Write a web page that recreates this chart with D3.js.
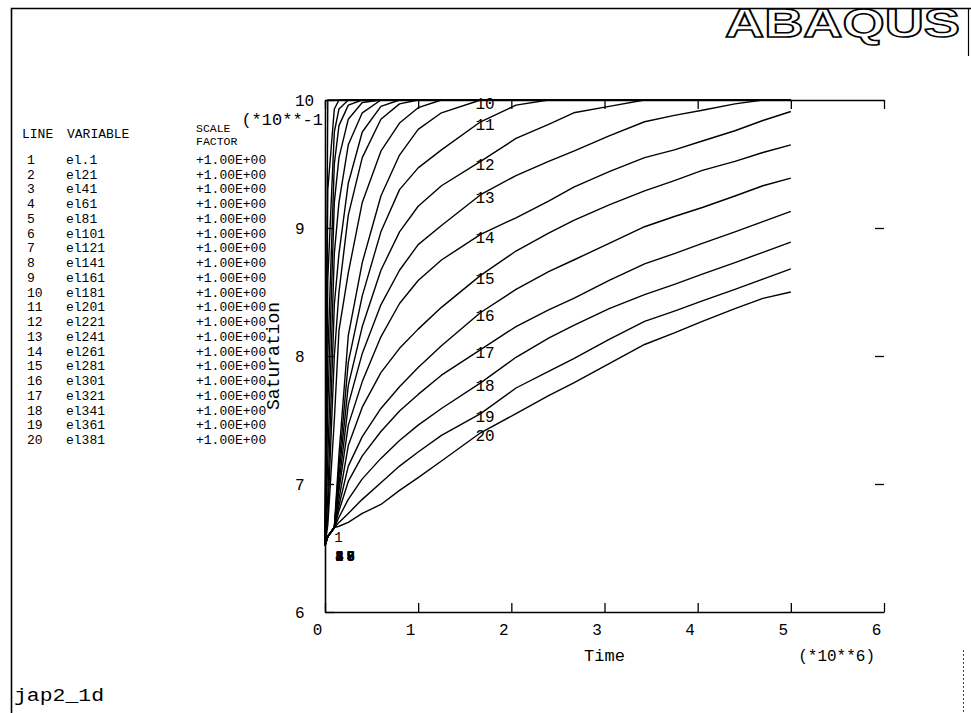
<!DOCTYPE html>
<html>
<head>
<meta charset="utf-8">
<script src="https://cdn.jsdelivr.net/npm/d3@7"></script>
<style>
  body { margin: 0; background: #fff; }
  svg { display: block; }
</style>
</head>
<body>
<svg id="chart" width="971" height="713"></svg>
<script>
// Output times, in units of 10**6
const time = [0, 0.03, 0.1, 0.15, 0.25, 0.4, 0.6, 0.8, 1.0, 1.25, 1.67, 2.05, 2.4, 2.67, 3.05, 3.43, 3.75, 4.05, 4.4, 4.7, 5.0];

// Plotted lines and the element variable of each
const lineIds = [1, 2, 3, 4, 5, 6, 7, 8, 9, 10, 11, 12, 13, 14, 15, 16, 17, 18, 19, 20];
const variables = ["el.1", "el21", "el41", "el61", "el81", "el101", "el121", "el141", "el161", "el181",
                   "el201", "el221", "el241", "el261", "el281", "el301", "el321", "el341", "el361", "el381"];
const scaleFactor = "+1.00E+00";

// Saturation of each element at every output time
const saturation = [
  [0.652, 1.000, 1.000, 1.000, 1.000, 1.000, 1.000, 1.000, 1.000, 1.000, 1.000, 1.000, 1.000, 1.000, 1.000, 1.000, 1.000, 1.000, 1.000, 1.000, 1.000],
  [0.652, 0.930, 0.993, 1.000, 1.000, 1.000, 1.000, 1.000, 1.000, 1.000, 1.000, 1.000, 1.000, 1.000, 1.000, 1.000, 1.000, 1.000, 1.000, 1.000, 1.000],
  [0.652, 0.860, 0.975, 0.993, 1.000, 1.000, 1.000, 1.000, 1.000, 1.000, 1.000, 1.000, 1.000, 1.000, 1.000, 1.000, 1.000, 1.000, 1.000, 1.000, 1.000],
  [0.652, 0.800, 0.950, 0.980, 0.996, 1.000, 1.000, 1.000, 1.000, 1.000, 1.000, 1.000, 1.000, 1.000, 1.000, 1.000, 1.000, 1.000, 1.000, 1.000, 1.000],
  [0.652, 0.760, 0.920, 0.955, 0.985, 0.998, 1.000, 1.000, 1.000, 1.000, 1.000, 1.000, 1.000, 1.000, 1.000, 1.000, 1.000, 1.000, 1.000, 1.000, 1.000],
  [0.652, 0.720, 0.880, 0.920, 0.965, 0.990, 1.000, 1.000, 1.000, 1.000, 1.000, 1.000, 1.000, 1.000, 1.000, 1.000, 1.000, 1.000, 1.000, 1.000, 1.000],
  [0.652, 0.690, 0.840, 0.880, 0.935, 0.975, 0.995, 1.000, 1.000, 1.000, 1.000, 1.000, 1.000, 1.000, 1.000, 1.000, 1.000, 1.000, 1.000, 1.000, 1.000],
  [0.652, 0.675, 0.800, 0.850, 0.910, 0.955, 0.985, 0.997, 1.000, 1.000, 1.000, 1.000, 1.000, 1.000, 1.000, 1.000, 1.000, 1.000, 1.000, 1.000, 1.000],
  [0.652, 0.668, 0.750, 0.820, 0.865, 0.920, 0.960, 0.982, 0.994, 1.000, 1.000, 1.000, 1.000, 1.000, 1.000, 1.000, 1.000, 1.000, 1.000, 1.000, 1.000],
  [0.652, 0.659, 0.666, 0.723, 0.816, 0.873, 0.925, 0.957, 0.977, 0.990, 1.000, 1.000, 1.000, 1.000, 1.000, 1.000, 1.000, 1.000, 1.000, 1.000, 1.000],
  [0.652, 0.659, 0.666, 0.714, 0.795, 0.847, 0.897, 0.930, 0.947, 0.961, 0.983, 0.996, 1.000, 1.000, 1.000, 1.000, 1.000, 1.000, 1.000, 1.000, 1.000],
  [0.652, 0.659, 0.666, 0.707, 0.777, 0.823, 0.867, 0.897, 0.917, 0.933, 0.952, 0.970, 0.981, 0.990, 0.995, 1.000, 1.000, 1.000, 1.000, 1.000, 1.000],
  [0.652, 0.659, 0.666, 0.700, 0.762, 0.802, 0.840, 0.867, 0.887, 0.902, 0.926, 0.941, 0.952, 0.960, 0.972, 0.983, 0.988, 0.992, 0.997, 1.000, 1.000],
  [0.652, 0.659, 0.666, 0.695, 0.746, 0.780, 0.815, 0.841, 0.859, 0.875, 0.895, 0.908, 0.921, 0.932, 0.944, 0.955, 0.961, 0.968, 0.976, 0.984, 0.991],
  [0.652, 0.659, 0.666, 0.688, 0.730, 0.760, 0.787, 0.806, 0.821, 0.838, 0.863, 0.882, 0.896, 0.906, 0.918, 0.929, 0.937, 0.945, 0.952, 0.959, 0.965],
  [0.652, 0.659, 0.666, 0.683, 0.714, 0.737, 0.759, 0.776, 0.791, 0.808, 0.834, 0.852, 0.866, 0.875, 0.888, 0.901, 0.909, 0.916, 0.925, 0.933, 0.939],
  [0.652, 0.659, 0.666, 0.679, 0.702, 0.722, 0.741, 0.757, 0.770, 0.785, 0.805, 0.823, 0.836, 0.845, 0.859, 0.872, 0.880, 0.888, 0.897, 0.905, 0.913],
  [0.652, 0.659, 0.666, 0.674, 0.688, 0.704, 0.720, 0.734, 0.746, 0.759, 0.779, 0.799, 0.814, 0.824, 0.837, 0.848, 0.856, 0.864, 0.873, 0.881, 0.889],
  [0.652, 0.659, 0.666, 0.670, 0.677, 0.688, 0.701, 0.714, 0.725, 0.738, 0.755, 0.775, 0.788, 0.798, 0.813, 0.827, 0.835, 0.843, 0.852, 0.860, 0.868],
  [0.652, 0.659, 0.666, 0.667, 0.670, 0.677, 0.684, 0.695, 0.705, 0.718, 0.740, 0.755, 0.769, 0.779, 0.794, 0.809, 0.818, 0.827, 0.837, 0.845, 0.850]
];

// Axis ticks
const xTicks = [0, 1, 2, 3, 4, 5, 6];
const yTicks = [0.6, 0.7, 0.8, 0.9, 1.0];
const yTickLabels = ["6", "7", "8", "9", "10"];

// Time at which curve numbers are written on the curves
const labelTime = 1.68;

const svg = d3.select("#chart");
const mono = "'Liberation Mono', 'DejaVu Sans Mono', monospace";

const x = d3.scaleLinear().domain([0, 6]).range([325, 884]);
const y = d3.scaleLinear().domain([0.6, 1.0]).range([612, 100]);

// Page frame
svg.append("path")
  .attr("d", "M11.5,713 V8.5 H971")
  .attr("fill", "none").attr("stroke", "#000").attr("stroke-width", 1.6);
svg.append("line")
  .attr("x1", 968.5).attr("x2", 968.5).attr("y1", 8).attr("y2", 56)
  .attr("stroke", "#000").attr("stroke-width", 1.2);
svg.append("line")
  .attr("x1", 963.5).attr("x2", 963.5).attr("y1", 650).attr("y2", 713)
  .attr("stroke", "#444").attr("stroke-width", 1).attr("stroke-dasharray", "2,2");

// Logo
svg.append("text")
  .attr("x", 725).attr("y", 37)
  .attr("textLength", 235).attr("lengthAdjust", "spacingAndGlyphs")
  .attr("font-family", "'Liberation Sans', Arial, sans-serif")
  .attr("font-weight", "bold").attr("font-size", 40)
  .attr("fill", "#fff").attr("stroke", "#000").attr("stroke-width", 1.5)
  .text("ABAQUS");

// Axes (ticks drawn inward)
const axisStyle = g => {
  g.select(".domain").attr("stroke", "#000").attr("stroke-width", 1.6);
  g.selectAll(".tick line").attr("stroke", "#000").attr("stroke-width", 1.3);
  g.selectAll("text").attr("fill", "#000").attr("font-family", mono).attr("font-size", 16);
};

svg.append("g")
  .attr("transform", `translate(0,${y(0.6)})`)
  .call(d3.axisBottom(x).tickValues(xTicks).tickSizeInner(-9).tickSizeOuter(0).tickFormat(d3.format("d")))
  .call(axisStyle)
  .call(g => g.selectAll("text").attr("y", 12).attr("dx", -8));

svg.append("g")
  .attr("transform", `translate(0,${y(1.0)})`)
  .call(d3.axisTop(x).tickValues(xTicks).tickSizeInner(-9).tickSizeOuter(0).tickFormat(""))
  .call(axisStyle);

svg.append("g")
  .attr("transform", `translate(${x(0)},0)`)
  .call(d3.axisLeft(y).tickValues(yTicks).tickSizeInner(-9).tickSizeOuter(0)
    .tickFormat((d, i) => yTickLabels[i]))
  .call(axisStyle)
  .call(g => g.selectAll("text").attr("x", 295 - x(0)).attr("text-anchor", "start"));

// Right side: tick marks only
svg.append("g")
  .attr("transform", `translate(${x(6)},0)`)
  .call(d3.axisRight(y).tickValues(yTicks.slice(1, -1)).tickSizeInner(-9).tickSizeOuter(0).tickFormat(""))
  .call(axisStyle)
  .call(g => g.select(".domain").remove());

// Axis titles and multipliers
svg.append("text")
  .attr("x", x(3)).attr("y", 661).attr("text-anchor", "middle")
  .attr("font-family", mono).attr("font-size", 17).text("Time");
svg.append("text")
  .attr("x", 875).attr("y", 661).attr("text-anchor", "end")
  .attr("font-family", mono).attr("font-size", 16).text("(*10**6)");
svg.append("text")
  .attr("x", 323).attr("y", 125).attr("text-anchor", "end")
  .attr("font-family", mono).attr("font-size", 17).text("(*10**-1");
svg.append("text")
  .attr("transform", `translate(279,${(y(0.6) + y(1.0)) / 2}) rotate(-90)`)
  .attr("text-anchor", "middle")
  .attr("font-family", mono).attr("font-size", 18).text("Saturation");

// Curves
const line = d3.line()
  .x((d, i) => x(time[i]))
  .y(d => y(d));

svg.append("g")
  .selectAll("path")
  .data(saturation)
  .join("path")
  .attr("d", line)
  .attr("fill", "none")
  .attr("stroke", "#000")
  .attr("stroke-width", 1.4)
  .attr("stroke-linejoin", "round");

// Curve numbers
const valueAt = (series, t) => {
  const i = Math.min(d3.bisectRight(time, t), time.length - 1);
  const t0 = time[i - 1], t1 = time[i];
  return series[i - 1] + (series[i] - series[i - 1]) * (t - t0) / (t1 - t0);
};

const labels = svg.append("g")
  .attr("font-family", mono).attr("font-size", 16).attr("fill", "#000");

lineIds.slice(9).forEach((id, k) => {
  const s = saturation[9 + k];
  labels.append("text")
    .attr("x", x(labelTime) - 6)
    .attr("y", y(valueAt(s, labelTime)) + 9)
    .text(id);
});

// Numbers of the early curves, written where they pile up near the start
labels.append("text")
  .attr("x", x(0.1)).attr("y", y(0.6547)).attr("font-size", 14)
  .text(lineIds[0]);
lineIds.slice(1, 9).forEach((id, k) => {
  labels.append("text")
    .attr("x", x(k < 4 ? 0.11 : 0.23))
    .attr("y", y(0.640))
    .attr("font-size", 14).attr("font-weight", "bold")
    .text(id);
});

// Legend table
const legend = svg.append("g")
  .attr("font-family", mono).attr("font-size", 13).attr("fill", "#000");
legend.append("text").attr("x", 22).attr("y", 138).text("LINE");
legend.append("text").attr("x", 67).attr("y", 138).text("VARIABLE");
legend.append("text").attr("x", 196).attr("y", 132).attr("font-size", 11.5).text("SCALE");
legend.append("text").attr("x", 196).attr("y", 145).attr("font-size", 11.5).text("FACTOR");

const rowY = d3.scaleLinear().domain([1, 20]).range([164, 444]);
lineIds.forEach((id, i) => {
  const yy = rowY(id);
  legend.append("text").attr("x", 27).attr("y", yy).text(id);
  legend.append("text").attr("x", 66).attr("y", yy).text(variables[i]);
  legend.append("text").attr("x", 196).attr("y", yy).text(scaleFactor);
});

// Plot file name
svg.append("text")
  .attr("x", 14).attr("y", 701)
  .attr("textLength", 90).attr("lengthAdjust", "spacingAndGlyphs")
  .attr("font-family", mono).attr("font-size", 18).text("jap2_1d");
</script>
</body>
</html>
